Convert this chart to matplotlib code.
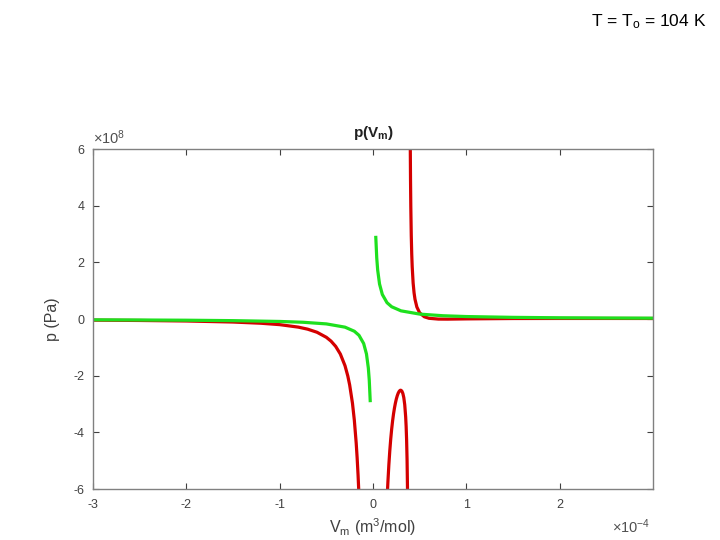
import matplotlib
matplotlib.use("Agg")
import matplotlib.pyplot as plt

# Units: V_m in 1e-4 m^3/mol, p in 1e8 Pa
red_left_x = [-3.0, -2.5, -2.0, -1.5, -1.2, -1.0, -0.8, -0.7, -0.6, -0.5, -0.45, -0.4,
              -0.35, -0.3, -0.27, -0.25, -0.22, -0.2, -0.18, -0.17, -0.16, -0.15]
red_left_y = [-0.041, -0.052, -0.0705, -0.107, -0.150, -0.199, -0.287, -0.359, -0.468,
              -0.646, -0.780, -0.966, -1.236, -1.648, -2.011, -2.328, -2.973, -3.572,
              -4.381, -4.896, -5.510, -6.250]

red_mid_x = [0.155, 0.16, 0.17, 0.18, 0.19, 0.20, 0.21, 0.22, 0.23, 0.24, 0.25, 0.26,
             0.27, 0.28, 0.29, 0.295, 0.30, 0.31, 0.32, 0.33, 0.34, 0.35, 0.355, 0.36,
             0.365, 0.37]
red_mid_y = [-6.075, -5.733, -5.139, -4.646, -4.234, -3.887, -3.595, -3.348, -3.141,
             -2.967, -2.823, -2.708, -2.618, -2.556, -2.520, -2.514, -2.516, -2.549,
             -2.629, -2.775, -3.025, -3.455, -3.789, -4.260, -4.959, -6.087]

red_right_x = [0.3995, 0.402, 0.405, 0.41, 0.415, 0.42, 0.43, 0.44, 0.45, 0.47, 0.5,
               0.55, 0.6, 0.7, 0.8, 1.0, 1.5, 2.0, 2.5, 3.0]
red_right_y = [6.06, 4.917, 3.969, 2.945, 2.293, 1.844, 1.270, 0.924, 0.696, 0.422,
               0.217, 0.078, 0.025, -0.003, -0.005, 0.004, 0.017, 0.019, 0.019, 0.018]

green_left_x = [-3.0, -2.5, -2.0, -1.5, -1.0, -0.75, -0.5, -0.3, -0.2, -0.15, -0.1,
                -0.07, -0.05, -0.04, -0.03]
green_left_y = [-0.029, -0.035, -0.043, -0.058, -0.0865, -0.115, -0.173, -0.288,
                -0.432, -0.576, -0.865, -1.235, -1.73, -2.16, -2.88]
green_right_x = [0.03, 0.04, 0.05, 0.07, 0.1, 0.15, 0.2, 0.3, 0.5, 0.75, 1.0, 1.5,
                 2.0, 2.5, 3.0]
green_right_y = [2.88, 2.16, 1.73, 1.235, 0.865, 0.576, 0.432, 0.288, 0.173, 0.115,
                 0.0865, 0.058, 0.043, 0.035, 0.029]

x_ticks = [-3, -2, -1, 0, 1, 2]
y_ticks = [-6, -4, -2, 0, 2, 4, 6]

plt.rcParams['font.family'] = ['Liberation Sans', 'DejaVu Sans']
plt.rcParams['axes.unicode_minus'] = False
plt.rcParams['mathtext.fontset'] = 'custom'
plt.rcParams['mathtext.rm'] = 'Liberation Sans'
plt.rcParams['mathtext.it'] = 'Liberation Sans'
plt.rcParams['mathtext.bf'] = 'Liberation Sans:bold'

fig = plt.figure(figsize=(7.2, 5.4), dpi=100)
ax = fig.add_axes([93/720, 1 - 489/540, (653-93)/720, (489-149)/540])

red = '#d40000'
green = '#1ee01e'
lw = 2.3
ax.plot(red_left_x, red_left_y, color=red, lw=lw)
ax.plot(red_mid_x, red_mid_y, color=red, lw=lw)
ax.plot(red_right_x, red_right_y, color=red, lw=lw)
ax.plot(green_left_x, green_left_y, color=green, lw=lw)
ax.plot(green_right_x, green_right_y, color=green, lw=lw)

ax.set_xlim(-3, 3)
ax.set_ylim(-6, 6)
ax.set_xticks(x_ticks)
ax.set_yticks(y_ticks)
gray = '#808080'
for s in ax.spines.values():
    s.set_color(gray)
    s.set_linewidth(1.0)
ax.tick_params(direction='in', length=4, width=0.8, color='#404040',
               labelcolor='#404040', labelsize=9, top=True, right=True)
ax.tick_params(axis='x', pad=7)
ax.tick_params(axis='y', pad=6)

ax.set_title(r'$\mathbf{p(V}_{\mathbf{m}}\mathbf{)}$', fontsize=11, pad=9, color='#222222')
ax.set_xlabel(r'V$_{\mathrm{m}}$ (m$^{\mathrm{3}}$/mol)', fontsize=11.5, color='#404040', labelpad=4)
ax.set_ylabel('p (Pa)', fontsize=11.5, color='#404040', labelpad=10)

ax.text(0.0, 1.005, r'$\times$10$^{\mathrm{8}}$', transform=ax.transAxes, fontsize=10.5,
        color='#505050', ha='left', va='bottom')
ax.text(0.995, -0.085, r'$\times$10$^{\mathrm{-4}}$', transform=ax.transAxes, fontsize=10.5,
        color='#505050', ha='right', va='top')

fig.text(706/720, 1 - 22/540, r'T = T$_\mathrm{o}$ = 104 K', fontsize=12.5,
         ha='right', va='center', color='black')

fig.savefig('out.png', dpi=100)
